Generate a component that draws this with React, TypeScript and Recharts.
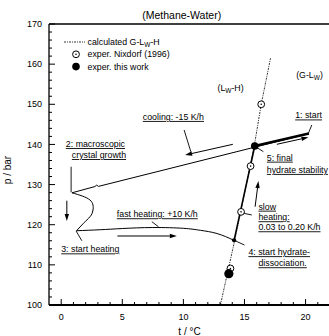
import React from 'react';
import { ComposedChart, Line, Scatter, XAxis, YAxis, ReferenceLine, Legend, Label } from 'recharts';

const FONT = 'Liberation Sans, Arial, Helvetica, sans-serif';

// calculated G-Lw-H equilibrium curve
const calcT = [13.03, 14.2, 15.8, 16.37, 17.13];
const calcP = [100, 116.1, 139.6, 150, 161.45];

// exper. Nixdorf (1996)
const nixT = [16.37, 15.5, 14.72, 13.85];
const nixP = [150.0, 134.6, 123.2, 109.1];

// exper. this work
const workT = [15.84];
const workP = [139.6];
const workBigT = [13.72];
const workBigP = [107.8];

// experimental trajectory
const coolT = [20.27, 3.05, 2.9, 2.75, 0.88];
const coolP = [142.7, 129.55, 129.85, 129.5, 127.95];
const growT = [0.88, 2.36, 2.6, 2.36, 1.82, 1.25];
const growP = [127.95, 126.15, 123.66, 122.0, 120.35, 118.5];
const heatT = [1.25, 3.2, 5.0, 7.5, 10.0, 11.4, 12.76, 14.15];
const heatP = [118.5, 118.75, 119.05, 119.3, 119.1, 118.6, 117.8, 116.1];
const slowT = [14.15, 15.84];
const slowP = [116.1, 139.6];
const finalT = [15.84, 20.27];
const finalP = [139.6, 142.7];
const dissT = [14.15];
const dissP = [116.1];

// arrows [t1, p1, t2, p2]
const arrows = [
  [14.05, 140.03, 10.14, 137.36],
  [17.65, 140.03, 20.23, 141.77],
  [15.87, 124.48, 16.14, 130.89],
  [0.46, 125.98, 0.46, 120.92],
  [4.6, 117.19, 9.46, 117.19],
];

// label leader lines [t1, p1, t2, p2]
const leaders = [
  [10.06, 143.59, 10.61, 138.19],
  [0.81, 134.45, 0.81, 128.07],
  [1.22, 118.43, 1.69, 116.0],
  [7.42, 120.75, 7.96, 119.5],
  [14.1, 116.19, 15.0, 114.94],
  [14.7, 123.0, 15.6, 122.42],
  [15.81, 139.6, 16.55, 138.2],
  [20.51, 144.84, 20.23, 142.77],
];

// annotation texts
const notes = [
  { t: 6.68, p: 146.1, text: 'cooling: -15 K/h', u: true },
  { t: 19.15, p: 146.46, text: '1: start', u: true },
  { t: 0.38, p: 139.36, text: '2: macroscopic', u: true },
  { t: 0.87, p: 136.6, text: 'crystal growth', u: true },
  { t: 16.83, p: 135.95, text: '5: final', u: true },
  { t: 16.83, p: 132.9, text: 'hydrate stability', u: true },
  { t: 16.14, p: 123.74, text: 'slow', u: true },
  { t: 16.14, p: 121.1, text: 'heating:', u: true },
  { t: 16.14, p: 118.6, text: '0.03 to 0.20 K/h', u: true },
  { t: 4.55, p: 121.84, text: 'fast heating: +10 K/h', u: true },
  { t: 0.0, p: 113.1, text: '3: start heating', u: true },
  { t: 15.32, p: 112.4, text: '4: start hydrate-', u: true },
  { t: 16.14, p: 109.64, text: 'dissociation.', u: true },
  { t: 12.79, p: 153.3, text: '(L_W-H)', u: false },
  { t: 19.23, p: 156.55, text: '(G-L_W)', u: false },
];

const legendItems = [
  { kind: 'line', text: 'calculated G-L_W-H' },
  { kind: 'open', text: 'exper. Nixdorf (1996)' },
  { kind: 'filled', text: 'exper. this work' },
];

const xTicks = [0, 1, 2, 3, 4, 5, 6, 7, 8, 9, 10, 11, 12, 13, 14, 15, 16, 17, 18, 19, 20, 21];
const xLabels = [0, 5, 10, 15, 20];
const yTicks = [100, 102, 104, 106, 108, 110, 112, 114, 116, 118, 120, 122, 124, 126, 128, 130, 132, 134, 136, 138, 140, 142, 144, 146, 148, 150, 152, 154, 156, 158, 160, 162, 164, 166, 168, 170];
const yLabels = [100, 110, 120, 130, 140, 150, 160, 170];

const zip = (ts: number[], ps: number[]) => ts.map((t, i) => ({ t, p: ps[i] }));

const richText = (s: string) => {
  const parts = s.split(/_(\w)/);
  return parts.map((part, i) =>
    i % 2 === 1 ? (
      <tspan key={i} dy={2} fontSize={6.5}>{part}</tspan>
    ) : (
      <tspan key={i} dy={i === 0 ? 0 : -2}>{part}</tspan>
    )
  );
};

const BottomTick = (props: any) => {
  const { x, y, payload } = props;
  const v = payload.value;
  const major = xLabels.includes(v);
  return (
    <g>
      <line x1={x} y1={y} x2={x} y2={y - (major ? 6 : 3)} stroke="#000" strokeWidth={1} />
      {major && (
        <text x={x} y={y + 15} textAnchor="middle" fontSize={9} fontFamily={FONT} fill="#000">{v}</text>
      )}
    </g>
  );
};

const TopTick = (props: any) => {
  const { x, y, payload } = props;
  const major = xLabels.includes(payload.value);
  return <line x1={x} y1={y} x2={x} y2={y + (major ? 6 : 3)} stroke="#000" strokeWidth={1} />;
};

const LeftTick = (props: any) => {
  const { x, y, payload } = props;
  const v = payload.value;
  const major = yLabels.includes(v);
  return (
    <g>
      <line x1={x} y1={y} x2={x + (major ? 6 : 3)} y2={y} stroke="#000" strokeWidth={1} />
      {major && (
        <text x={x - 7} y={y + 3.2} textAnchor="end" fontSize={9} fontFamily={FONT} fill="#000">{v}</text>
      )}
    </g>
  );
};

const RightTick = (props: any) => {
  const { x, y, payload } = props;
  const major = yLabels.includes(payload.value);
  return <line x1={x} y1={y} x2={x - (major ? 6 : 3)} y2={y} stroke="#000" strokeWidth={1} />;
};

const arrowShape = (props: any) => {
  const { x1, y1, x2, y2 } = props;
  const ang = Math.atan2(y2 - y1, x2 - x1);
  const L = 7;
  const W = 2.2;
  const bx = x2 - L * Math.cos(ang);
  const by = y2 - L * Math.sin(ang);
  const px = -Math.sin(ang) * W;
  const py = Math.cos(ang) * W;
  return (
    <g>
      <line x1={x1} y1={y1} x2={bx} y2={by} stroke="#000" strokeWidth={1} />
      <polygon points={`${x2},${y2} ${bx + px},${by + py} ${bx - px},${by - py}`} fill="#000" />
    </g>
  );
};

const leaderShape = (props: any) => {
  const { x1, y1, x2, y2 } = props;
  return <line x1={x1} y1={y1} x2={x2} y2={y2} stroke="#000" strokeWidth={0.9} />;
};

const noteShape = (props: any) => {
  const { cx, cy, payload } = props;
  return (
    <text
      x={cx}
      y={cy}
      fontSize={8.8}
      fontFamily={FONT}
      fill="#000"
      textDecoration={payload.u ? 'underline' : undefined}
    >
      {richText(payload.text)}
    </text>
  );
};

const openCircle = (props: any) => {
  const { cx, cy } = props;
  return (
    <g>
      <circle cx={cx} cy={cy} r={3.4} fill="#fff" stroke="#000" strokeWidth={1} />
      <circle cx={cx} cy={cy} r={0.8} fill="#000" />
    </g>
  );
};
const filledCircle = (props: any) => <circle cx={props.cx} cy={props.cy} r={3.8} fill="#000" />;
const bigFilledCircle = (props: any) => <circle cx={props.cx} cy={props.cy} r={4.6} fill="#000" />;
const smallDot = (props: any) => <circle cx={props.cx} cy={props.cy} r={2.1} fill="#000" />;

const LegendContent = () => (
  <svg width={140} height={42} style={{ display: 'block' }}>
    {legendItems.map((it, i) => {
      const y = 8 + i * 12.3;
      return (
        <g key={i}>
          {it.kind === 'line' && (
            <line x1={4} y1={y} x2={25} y2={y} stroke="#000" strokeWidth={0.8} strokeDasharray="2 1 1 1" />
          )}
          {it.kind === 'open' && openCircle({ cx: 16, cy: y })}
          {it.kind === 'filled' && filledCircle({ cx: 16, cy: y })}
          <text x={27.5} y={y + 3.1} fontSize={8.8} fontFamily={FONT} fill="#000">{richText(it.text)}</text>
        </g>
      );
    })}
  </svg>
);

export default function App() {
  return (
    <div style={{ position: 'absolute', left: 0, top: 0, width: 329, height: 336, overflow: 'hidden', background: '#fff' }}>
      <ComposedChart width={330} height={336} margin={{ top: 0, right: 0, bottom: 0, left: 0 }}>
        <XAxis
          dataKey="t"
          type="number"
          domain={[-1, 22]}
          allowDataOverflow
          ticks={xTicks}
          interval={0}
          tickSize={0}
          tickMargin={0}
          height={31}
          tick={<BottomTick />}
          axisLine={{ stroke: '#000', strokeWidth: 2 }}
        >
          <Label
            content={(p: any) => (
              <text x={p.viewBox.x + p.viewBox.width / 2} y={p.viewBox.y + 29.5} textAnchor="middle" fontSize={10} fontFamily={FONT} fill="#000">
                t / °C
              </text>
            )}
          />
        </XAxis>
        <XAxis
          xAxisId="top"
          orientation="top"
          type="number"
          domain={[-1, 22]}
          allowDataOverflow
          ticks={xTicks}
          interval={0}
          tickSize={0}
          tickMargin={0}
          height={24}
          tick={<TopTick />}
          axisLine={{ stroke: '#000', strokeWidth: 1.3 }}
        >
          <Label
            content={(p: any) => (
              <text x={p.viewBox.x + 132.7} y={p.viewBox.y + 18.5} textAnchor="middle" fontSize={10.5} fontFamily={FONT} fill="#000">
                (Methane-Water)
              </text>
            )}
          />
        </XAxis>
        <YAxis
          dataKey="p"
          type="number"
          domain={[100, 170]}
          allowDataOverflow
          ticks={yTicks}
          interval={0}
          tickSize={0}
          tickMargin={0}
          width={49}
          tick={<LeftTick />}
          axisLine={{ stroke: '#000', strokeWidth: 1.3 }}
        >
          <Label
            content={(p: any) => (
              <text
                x={11}
                y={170}
                transform="rotate(-90 11 170)"
                textAnchor="middle"
                fontSize={10}
                fontFamily={FONT}
                fill="#000"
              >
                p / bar
              </text>
            )}
          />
        </YAxis>
        <YAxis
          yAxisId="right"
          orientation="right"
          type="number"
          domain={[100, 170]}
          allowDataOverflow
          ticks={yTicks}
          interval={0}
          tickSize={0}
          tickMargin={0}
          width={0}
          tick={<RightTick />}
          axisLine={{ stroke: '#000', strokeWidth: 1.3 }}
        />

        <Line data={zip(calcT, calcP)} dataKey="p" type="linear" stroke="#000" strokeWidth={0.8} strokeDasharray="2 1 1 1" dot={false} isAnimationActive={false} />
        <Line data={zip(coolT, coolP)} dataKey="p" type="linear" stroke="#000" strokeWidth={1} dot={false} isAnimationActive={false} />
        <Line data={zip(growT, growP)} dataKey="p" type="natural" stroke="#000" strokeWidth={1} dot={false} isAnimationActive={false} />
        <Line data={zip(heatT, heatP)} dataKey="p" type="natural" stroke="#000" strokeWidth={1} dot={false} isAnimationActive={false} />
        <Line data={zip(slowT, slowP)} dataKey="p" type="linear" stroke="#000" strokeWidth={1.6} dot={false} isAnimationActive={false} />
        <Line data={zip(finalT, finalP)} dataKey="p" type="linear" stroke="#000" strokeWidth={2.6} dot={false} isAnimationActive={false} />

        {arrows.map((a, i) => (
          <ReferenceLine key={'a' + i} segment={[{ x: a[0], y: a[1] }, { x: a[2], y: a[3] }]} shape={arrowShape} ifOverflow="visible" />
        ))}
        {leaders.map((a, i) => (
          <ReferenceLine key={'l' + i} segment={[{ x: a[0], y: a[1] }, { x: a[2], y: a[3] }]} shape={leaderShape} ifOverflow="visible" />
        ))}

        <Scatter data={zip(nixT, nixP)} shape={openCircle} isAnimationActive={false} />
        <Scatter data={zip(workT, workP)} shape={filledCircle} isAnimationActive={false} />
        <Scatter data={zip(workBigT, workBigP)} shape={bigFilledCircle} isAnimationActive={false} />
        <Scatter data={zip(dissT, dissP)} shape={smallDot} isAnimationActive={false} />
        <Scatter data={notes} shape={noteShape} isAnimationActive={false} />

        <Legend
          layout="vertical"
          align="center"
          verticalAlign="middle"
          content={<LegendContent />}
          wrapperStyle={{ left: 60, top: 34, width: 140, height: 42 }}
        />
      </ComposedChart>
    </div>
  );
}
